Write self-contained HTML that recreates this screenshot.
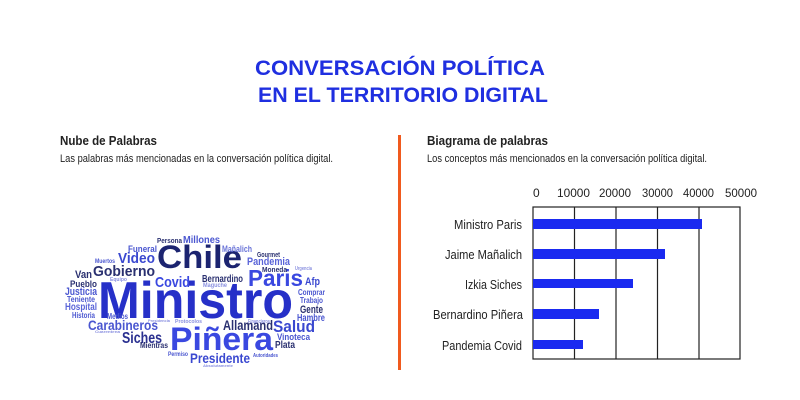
<!DOCTYPE html>
<html><head><meta charset="utf-8"><style>
html,body{margin:0;padding:0;background:#fff}
svg{display:block}
text{font-family:"Liberation Sans",sans-serif}
</style></head><body>
<svg width="800" height="400" viewBox="0 0 800 400" xmlns="http://www.w3.org/2000/svg">
<rect width="800" height="400" fill="#fff"/>
<g fill="#1f2fe0" font-weight="bold" font-size="21">
<text x="255" y="75" textLength="290" lengthAdjust="spacingAndGlyphs">CONVERSACIÓN POLÍTICA</text>
<text x="258" y="102" textLength="290" lengthAdjust="spacingAndGlyphs">EN EL TERRITORIO DIGITAL</text>
</g>
<g fill="#222">
<text x="60" y="145" font-size="13" font-weight="bold" textLength="97" lengthAdjust="spacingAndGlyphs">Nube de Palabras</text>
<text x="60" y="162" font-size="11" textLength="273" lengthAdjust="spacingAndGlyphs">Las palabras más mencionadas en la conversación política digital.</text>
<text x="427" y="145" font-size="13" font-weight="bold" textLength="121" lengthAdjust="spacingAndGlyphs">Biagrama de palabras</text>
<text x="427" y="162" font-size="11" textLength="280" lengthAdjust="spacingAndGlyphs">Los conceptos más mencionados en la conversación política digital.</text>
</g>
<rect x="398" y="135" width="3" height="235" fill="#f05a1e"/>
<g stroke="#222" stroke-width="1.2" fill="none">
<rect x="533" y="207" width="207" height="152"/>
<line x1="574.5" y1="207" x2="574.5" y2="359"/>
<line x1="616" y1="207" x2="616" y2="359"/>
<line x1="657.5" y1="207" x2="657.5" y2="359"/>
<line x1="699" y1="207" x2="699" y2="359"/>
</g>
<g fill="#1a2af0">
<rect x="533" y="219" width="169" height="10"/>
<rect x="533" y="249" width="132" height="10"/>
<rect x="533" y="279" width="100" height="9"/>
<rect x="533" y="309" width="66" height="10"/>
<rect x="533" y="340" width="50" height="9"/>
</g>
<g fill="#222" font-size="13">
<text x="533" y="197" font-size="12">0</text>
<text x="557" y="197" font-size="12" textLength="33" lengthAdjust="spacingAndGlyphs">10000</text>
<text x="599" y="197" font-size="12" textLength="32" lengthAdjust="spacingAndGlyphs">20000</text>
<text x="642" y="197" font-size="12" textLength="31" lengthAdjust="spacingAndGlyphs">30000</text>
<text x="683" y="197" font-size="12" textLength="31" lengthAdjust="spacingAndGlyphs">40000</text>
<text x="725" y="197" font-size="12" textLength="32" lengthAdjust="spacingAndGlyphs">50000</text>
<text x="454" y="229" textLength="68" lengthAdjust="spacingAndGlyphs">Ministro Paris</text>
<text x="445" y="259" textLength="77" lengthAdjust="spacingAndGlyphs">Jaime Mañalich</text>
<text x="465" y="289" textLength="57" lengthAdjust="spacingAndGlyphs">Izkia Siches</text>
<text x="433" y="319" textLength="90" lengthAdjust="spacingAndGlyphs">Bernardino Piñera</text>
<text x="442" y="350" textLength="80" lengthAdjust="spacingAndGlyphs">Pandemia Covid</text>
</g>
<g font-weight="bold">
<text x="98" y="318" font-size="52" fill="#2630c8" textLength="195" lengthAdjust="spacingAndGlyphs">Ministro</text>
<text x="170" y="350" font-size="32" fill="#3a48e0" textLength="103" lengthAdjust="spacingAndGlyphs">Piñera</text>
<text x="157" y="268" font-size="32" fill="#1c2470" textLength="85" lengthAdjust="spacingAndGlyphs">Chile</text>
<text x="248" y="286" font-size="23" fill="#3a48e0" textLength="55" lengthAdjust="spacingAndGlyphs">Paris</text>
<text x="93" y="276" font-size="15" fill="#2a3070" textLength="62" lengthAdjust="spacingAndGlyphs">Gobierno</text>
<text x="118" y="263" font-size="15" fill="#3a48d0" textLength="37" lengthAdjust="spacingAndGlyphs">Video</text>
<text x="155" y="287" font-size="15" fill="#3a48e0" textLength="35" lengthAdjust="spacingAndGlyphs">Covid</text>
<text x="88" y="330" font-size="14" fill="#4a56d0" textLength="70" lengthAdjust="spacingAndGlyphs">Carabineros</text>
<text x="122" y="343" font-size="16" fill="#2a3090" textLength="40" lengthAdjust="spacingAndGlyphs">Siches</text>
<text x="273" y="332" font-size="17" fill="#3a48d0" textLength="42" lengthAdjust="spacingAndGlyphs">Salud</text>
<text x="223" y="330" font-size="14" fill="#2a3070" textLength="50" lengthAdjust="spacingAndGlyphs">Allamand</text>
<text x="190" y="363" font-size="14" fill="#3a48d0" textLength="60" lengthAdjust="spacingAndGlyphs">Presidente</text>
<text x="202" y="282" font-size="10" fill="#2a3070" textLength="41" lengthAdjust="spacingAndGlyphs">Bernardino</text>
<text x="247" y="265" font-size="11" fill="#5a64d8" textLength="43" lengthAdjust="spacingAndGlyphs">Pandemia</text>
<text x="183" y="243" font-size="10" fill="#4a56d0" textLength="37" lengthAdjust="spacingAndGlyphs">Millones</text>
<text x="157" y="243" font-size="7" fill="#2a3070" textLength="25" lengthAdjust="spacingAndGlyphs">Persona</text>
<text x="128" y="252" font-size="9" fill="#4a56d0" textLength="29" lengthAdjust="spacingAndGlyphs">Funeral</text>
<text x="222" y="252" font-size="9" fill="#6a74d8" textLength="30" lengthAdjust="spacingAndGlyphs">Mañalich</text>
<text x="257" y="257" font-size="7" fill="#2a3070" textLength="23" lengthAdjust="spacingAndGlyphs">Gourmet</text>
<text x="262" y="272" font-size="7" fill="#2a3070" textLength="25" lengthAdjust="spacingAndGlyphs">Moneda</text>
<text x="295" y="270" font-size="5" fill="#8a90e0" textLength="17" lengthAdjust="spacingAndGlyphs">Urgencia</text>
<text x="305" y="285" font-size="11" fill="#3a48d0" textLength="15" lengthAdjust="spacingAndGlyphs">Afp</text>
<text x="298" y="295" font-size="8" fill="#4a56d0" textLength="27" lengthAdjust="spacingAndGlyphs">Comprar</text>
<text x="300" y="303" font-size="8" fill="#4a56d0" textLength="23" lengthAdjust="spacingAndGlyphs">Trabajo</text>
<text x="300" y="313" font-size="11" fill="#2a3070" textLength="23" lengthAdjust="spacingAndGlyphs">Gente</text>
<text x="297" y="321" font-size="10" fill="#4a56d0" textLength="28" lengthAdjust="spacingAndGlyphs">Hambre</text>
<text x="277" y="340" font-size="9" fill="#4a56d0" textLength="33" lengthAdjust="spacingAndGlyphs">Vinoteca</text>
<text x="275" y="348" font-size="10" fill="#2a3070" textLength="20" lengthAdjust="spacingAndGlyphs">Plata</text>
<text x="75" y="278" font-size="11" fill="#2a3070" textLength="17" lengthAdjust="spacingAndGlyphs">Van</text>
<text x="70" y="287" font-size="9" fill="#2a3070" textLength="27" lengthAdjust="spacingAndGlyphs">Pueblo</text>
<text x="65" y="295" font-size="11" fill="#4a56d0" textLength="32" lengthAdjust="spacingAndGlyphs">Justicia</text>
<text x="67" y="302" font-size="8" fill="#4a56d0" textLength="28" lengthAdjust="spacingAndGlyphs">Teniente</text>
<text x="65" y="310" font-size="10" fill="#5a64d8" textLength="32" lengthAdjust="spacingAndGlyphs">Hospital</text>
<text x="72" y="318" font-size="8" fill="#4a56d0" textLength="23" lengthAdjust="spacingAndGlyphs">Historia</text>
<text x="107" y="319" font-size="8" fill="#4a56d0" textLength="21" lengthAdjust="spacingAndGlyphs">Medios</text>
<text x="95" y="263" font-size="6" fill="#4a56d0" textLength="20" lengthAdjust="spacingAndGlyphs">Muertos</text>
<text x="110" y="281" font-size="5" fill="#8a90e0" textLength="17" lengthAdjust="spacingAndGlyphs">Equipo</text>
<text x="203" y="287" font-size="6" fill="#8a90e0" textLength="24" lengthAdjust="spacingAndGlyphs">Maguche</text>
<text x="140" y="348" font-size="8" fill="#2a3070" textLength="28" lengthAdjust="spacingAndGlyphs">Mientras</text>
<text x="168" y="356" font-size="6" fill="#4a56d0" textLength="20" lengthAdjust="spacingAndGlyphs">Permiso</text>
<text x="253" y="357" font-size="5" fill="#4a56d0" textLength="25" lengthAdjust="spacingAndGlyphs">Autoridades</text>
<text x="203" y="367" font-size="4" fill="#8a90e0" textLength="30" lengthAdjust="spacingAndGlyphs">Absolutamente</text>
<text x="175" y="323" font-size="5" fill="#8a90e0" textLength="27" lengthAdjust="spacingAndGlyphs">Protocolos</text>
<text x="95" y="333" font-size="4" fill="#8a90e0" textLength="25" lengthAdjust="spacingAndGlyphs">Cuarentena</text>
<text x="248" y="323" font-size="5" fill="#8a90e0" textLength="22" lengthAdjust="spacingAndGlyphs">Financieros</text>
<text x="148" y="322" font-size="4" fill="#8a90e0" textLength="22" lengthAdjust="spacingAndGlyphs">Presidencia</text>
</g>
</svg>
</body></html>
